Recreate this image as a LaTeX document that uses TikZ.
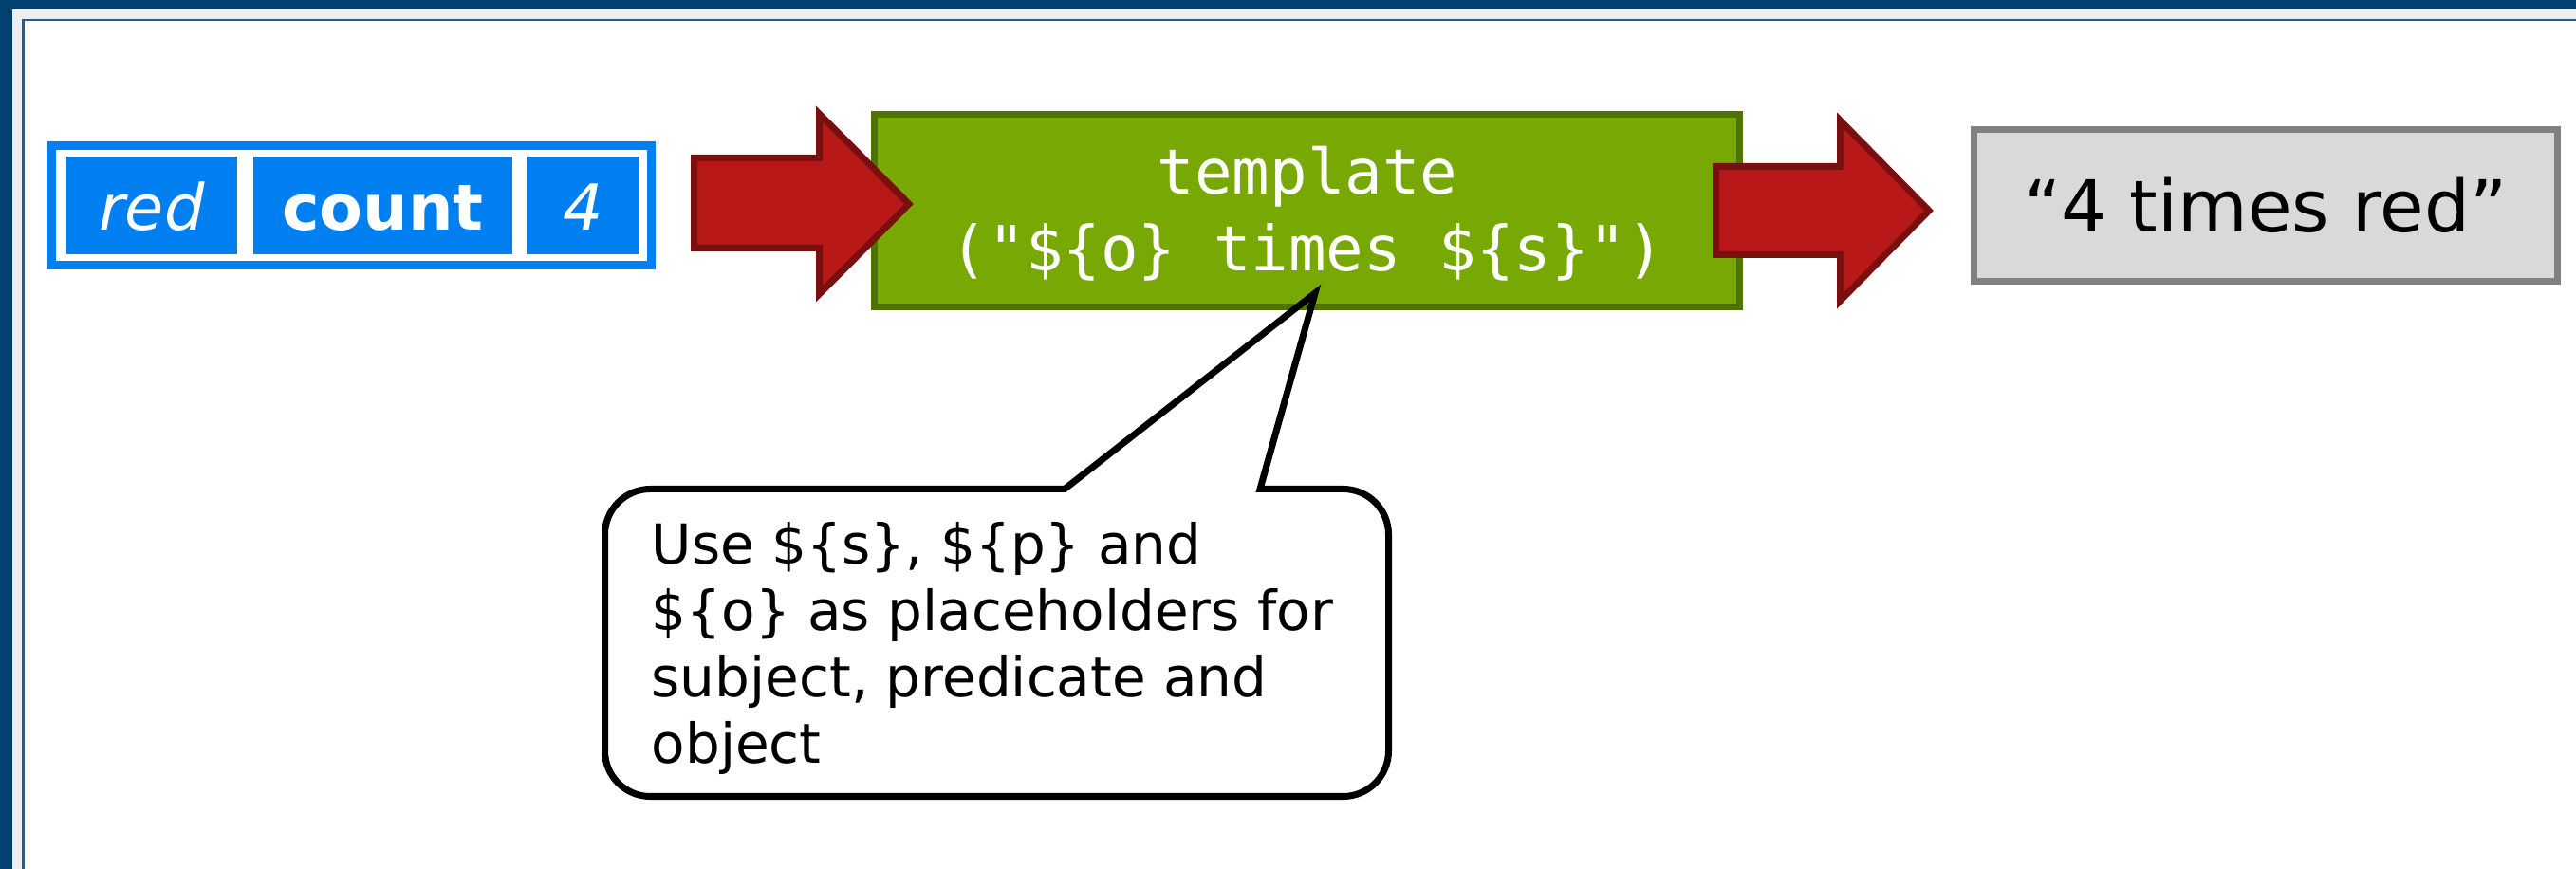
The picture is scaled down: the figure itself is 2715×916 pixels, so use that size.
\documentclass[tikz,border=0pt]{standalone}
\usepackage{fontspec}
\setmainfont{DejaVu Sans}
\newfontfamily\codefont{DejaVu Sans Mono}
\definecolor{framedark}{HTML}{00416F}
\definecolor{framegrey}{HTML}{EEEEEE}
\definecolor{frameline}{HTML}{1F6096}
\definecolor{recblue}{HTML}{0080F0}
\definecolor{arrowfill}{HTML}{B81918}
\definecolor{arrowedge}{HTML}{7A0F0F}
\definecolor{tmplfill}{HTML}{78A804}
\definecolor{tmpledge}{HTML}{4E7300}
\definecolor{resfill}{HTML}{D9D9D9}
\definecolor{resedge}{HTML}{808080}
\begin{document}
\begin{tikzpicture}[x=0.01cm, y=-0.01cm,
  recouter/.style={draw=recblue, line width=0.09cm, fill=white, inner sep=0pt,
    minimum width=6.32cm, minimum height=1.26cm},
  reccell/.style={fill=recblue, text=white, inner sep=0pt, minimum height=1.03cm,
    text height=15pt, text depth=0pt, font=\fontsize{19}{22}\selectfont},
  blockarrow/.style={fill=arrowfill, draw=arrowedge, line width=0.07cm, line join=miter},
  tmplbox/.style={fill=tmplfill, draw=tmpledge, line width=0.07cm, inner sep=0pt,
    minimum width=9.12cm, minimum height=2.03cm},
  tmpltext/.style={text=white, inner sep=0pt, anchor=base,
    font=\codefont\fontsize{18.7}{22.8}\selectfont},
  resbox/.style={fill=resfill, draw=resedge, line width=0.07cm, inner sep=0pt,
    minimum width=6.15cm, minimum height=1.60cm, font=\fontsize{21.5}{25}\selectfont},
  notefill/.style={fill=white},
  noteline/.style={draw=black, line width=0.07cm, line join=miter},
  notetext/.style={inner sep=0pt, anchor=base west, font=\fontsize{16.5}{19.9}\selectfont}
]
\useasboundingbox (0,0) rectangle (2715,916);
% frame
\fill[white] (0,0) rectangle (2715,916);
\fill[framedark] (0,0) rectangle (2715,10);
\fill[framedark] (0,0) rectangle (13,916);
\fill[framegrey] (13,10) rectangle (2715,20);
\fill[framegrey] (13,10) rectangle (23,916);
\fill[frameline] (23,20) rectangle (2715,22.5);
\fill[frameline] (23,20) rectangle (25.5,916);

% record
\node[recouter] (rec) at (370.5,216.5) {};
\node[reccell, minimum width=1.80cm] (cred) at (160,216.5) {\itshape red};
\node[reccell, minimum width=2.73cm] (ccount) at (403.5,216.5) {\bfseries count};
\node[reccell, minimum width=1.19cm] (cfour) at (614.5,216.5) {\itshape 4};

% callout fill (under the template box)
\coordinate (tip) at (1386,309);
\path[notefill] (1122,515.5) -- (tip) -- (1328,515.5) -- (1415.5,515.5) arc(270:360:48)
  -- (1463.5,791.5) arc(0:90:48) -- (685.5,839.5) arc(90:180:48)
  -- (637.5,563.5) arc(180:270:48) -- cycle;

% template box
\node[tmplbox] (tmpl) at (1377.5,222) {};
\node[tmpltext] (tmpltxt) at (1378,205)
  {\begin{tabular}[t]{@{}c@{}}template\\("\$\{o\} times \$\{s\}")\end{tabular}};

% result box
\node[resbox] (res) at (2388,216.5) {“4 times red”};

% block arrows
\draw[blockarrow] (731.5,166.5) -- (863.5,166.5) -- (863.5,120) -- (958,215) -- (863.5,310)
  -- (863.5,261.5) -- (731.5,261.5) -- cycle;
\draw[blockarrow] (1808.5,175.5) -- (1939.5,175.5) -- (1939.5,127) -- (2033,222) -- (1939.5,317)
  -- (1939.5,268.5) -- (1808.5,268.5) -- cycle;

% callout outline
\path[noteline] (1122,515.5) -- (tip) -- (1328,515.5) -- (1415.5,515.5) arc(270:360:48)
  -- (1463.5,791.5) arc(0:90:48) -- (685.5,839.5) arc(90:180:48)
  -- (637.5,563.5) arc(180:270:48) -- cycle;

% callout text
\node[notetext] (notetxt) at (686,595)
  {\begin{tabular}[t]{@{}l@{}}Use \$\{s\}, \$\{p\} and\\\$\{o\} as placeholders for\\subject, predicate and\\object\end{tabular}};
\end{tikzpicture}
\end{document}
